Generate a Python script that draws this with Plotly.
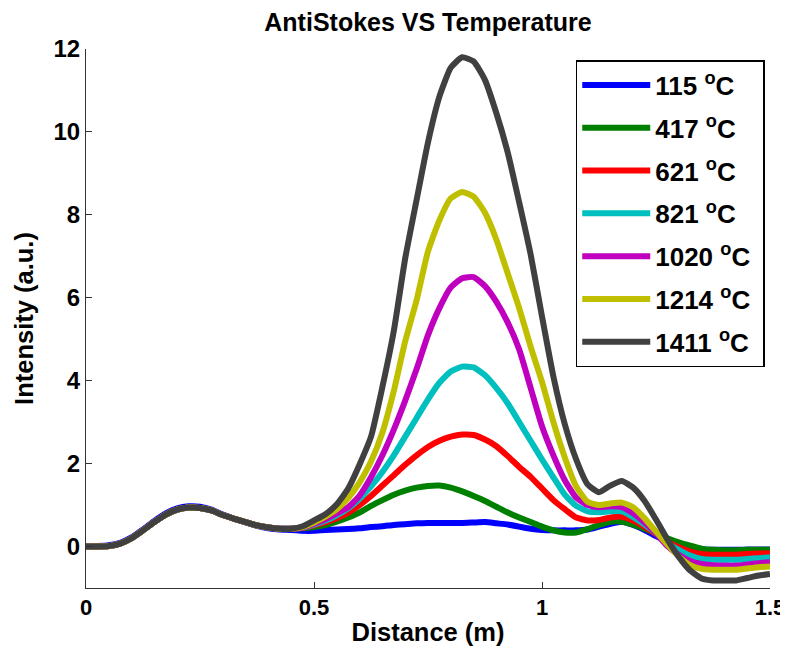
import plotly.graph_objects as go

# Distance grid (m)
distance = [round(i * 0.025, 3) for i in range(61)]

# shared baseline 0 .. 0.45 (19 points)
base = [0.00, 0.00, 0.01, 0.07, 0.20, 0.39, 0.59, 0.77, 0.89, 0.94, 0.93, 0.87, 0.76, 0.67, 0.59, 0.51, 0.46, 0.43, 0.43]
base_blue = [0.00, 0.01, 0.03, 0.09, 0.22, 0.41, 0.62, 0.80, 0.92, 0.97, 0.96, 0.89, 0.77, 0.67, 0.58, 0.50, 0.44, 0.41, 0.40]

# 0.475 .. 1.5 (42 points)
t115 = [0.38, 0.38, 0.40, 0.41, 0.42, 0.44, 0.47, 0.49, 0.52, 0.54, 0.56, 0.57, 0.57, 0.57, 0.57, 0.58,
        0.59, 0.56, 0.53, 0.48, 0.43, 0.40, 0.39, 0.39, 0.39, 0.41, 0.48, 0.55, 0.60, 0.52, 0.40, 0.25,
        0.12, 0.02, -0.04, -0.07, -0.08, -0.08, -0.08, -0.07, -0.07, -0.07]
t417 = [0.44, 0.47, 0.52, 0.60, 0.70, 0.82, 0.98, 1.12, 1.25, 1.35, 1.42, 1.46, 1.47, 1.42, 1.33, 1.22,
        1.10, 0.96, 0.82, 0.70, 0.59, 0.48, 0.39, 0.34, 0.34, 0.42, 0.52, 0.60, 0.60, 0.53, 0.43, 0.32,
        0.20, 0.10, 0.02, -0.05, -0.08, -0.09, -0.09, -0.08, -0.08, -0.08]
t621 = [0.45, 0.51, 0.58, 0.68, 0.82, 1.00, 1.22, 1.47, 1.72, 1.97, 2.20, 2.40, 2.55, 2.65, 2.70, 2.69,
        2.58, 2.42, 2.18, 1.92, 1.68, 1.40, 1.12, 0.90, 0.70, 0.63, 0.64, 0.70, 0.72, 0.63, 0.48, 0.30,
        0.12, -0.02, -0.12, -0.18, -0.20, -0.20, -0.20, -0.18, -0.17, -0.16]
t821 = [0.46, 0.53, 0.62, 0.75, 0.92, 1.15, 1.45, 1.80, 2.20, 2.65, 3.10, 3.55, 3.95, 4.22, 4.34, 4.32,
        4.13, 3.82, 3.45, 3.00, 2.55, 2.10, 1.67, 1.25, 0.98, 0.85, 0.83, 0.85, 0.85, 0.71, 0.53, 0.32,
        0.09, -0.08, -0.22, -0.30, -0.32, -0.32, -0.32, -0.30, -0.28, -0.26]
t1020 = [0.46, 0.55, 0.66, 0.80, 0.95, 1.23, 1.67, 2.20, 2.82, 3.52, 4.28, 5.10, 5.75, 6.25, 6.47, 6.50,
         6.28, 5.90, 5.40, 4.75, 3.83, 2.90, 2.20, 1.60, 1.18, 1.00, 0.95, 0.97, 0.95, 0.80, 0.58, 0.32,
         0.01, -0.20, -0.35, -0.42, -0.45, -0.46, -0.46, -0.43, -0.40, -0.38]
t1214 = [0.47, 0.58, 0.72, 0.90, 1.17, 1.55, 2.05, 2.75, 3.75, 4.95, 5.94, 7.12, 7.87, 8.40, 8.55, 8.44,
         8.05, 7.40, 6.58, 5.75, 4.82, 3.97, 3.00, 2.15, 1.45, 1.08, 1.00, 1.04, 1.06, 0.95, 0.68, 0.36,
         0.05, -0.24, -0.45, -0.54, -0.56, -0.56, -0.56, -0.53, -0.50, -0.48]
t1411 = [0.49, 0.63, 0.78, 1.02, 1.40, 1.98, 2.65, 3.85, 5.20, 6.95, 8.36, 9.75, 10.85, 11.55, 11.80, 11.70,
         11.25, 10.45, 9.50, 8.30, 7.05, 5.55, 4.10, 2.95, 2.10, 1.50, 1.31, 1.47, 1.58, 1.42, 1.10, 0.65,
         0.17, -0.25, -0.58, -0.77, -0.82, -0.82, -0.82, -0.76, -0.70, -0.66]

labels = ["115 <sup>o</sup>C", "417 <sup>o</sup>C", "621 <sup>o</sup>C", "821 <sup>o</sup>C",
          "1020 <sup>o</sup>C", "1214 <sup>o</sup>C", "1411 <sup>o</sup>C"]
series = [base_blue + t115, base + t417, base + t621, base + t821, base + t1020, base + t1214, base + t1411]
colors = ["#0000ff", "#008000", "#ff0000", "#00bfbf", "#bf00bf", "#bfbf00", "#404040"]

x_ticks = [0, 0.5, 1, 1.5]
x_ticktext = ["0", "0.5", "1", "1.5"]
y_ticks = [0, 2, 4, 6, 8, 10, 12]

FONT = "Liberation Sans, Arial, sans-serif"
W, H = 780, 638

fig = go.Figure()
for lab, ys, col in zip(labels, series, colors):
    fig.add_trace(go.Scatter(x=distance, y=ys, mode="lines", name=f"<b>{lab}</b>&nbsp;", legendgroup=lab,
                             line=dict(color=col, width=6, shape="spline", smoothing=0.5)))

# page body has an 8px margin, so the figure is offset by 8px in the screenshot
fig.update_layout(
    width=W, height=H,
    margin=dict(l=78, r=18, t=41, b=58, autoexpand=False),
    paper_bgcolor="white", plot_bgcolor="white",
    font=dict(family=FONT, color="black"),
    title=dict(text="<b>AntiStokes VS Temperature</b>", x=0.5, xref="paper", xanchor="center",
               y=1 - 14 / H, yref="container", yanchor="middle", font=dict(size=25, family=FONT)),
    xaxis=dict(range=[0, 1.5], tickvals=x_ticks, ticktext=[f"<b>{t}</b>" for t in x_ticktext],
               ticks="inside", ticklen=6, tickcolor="#333", showline=True, linecolor="#333", linewidth=1,
               showgrid=False, zeroline=False, tickfont=dict(size=22), automargin=False,
               title=dict(text="<b>Distance (m)</b>", font=dict(size=25.5), standoff=9)),
    yaxis=dict(range=[-1, 12], tickvals=y_ticks, ticktext=[f"<b>{t}</b>" for t in y_ticks],
               ticks="inside", ticklen=6, tickcolor="#333", showline=True, linecolor="#333", linewidth=1,
               showgrid=False, zeroline=False, tickfont=dict(size=24), automargin=False,
               title=dict(text="<b>Intensity (a.u.)</b>", font=dict(size=25.5), standoff=12)),
    legend=dict(x=0.716, y=0.9795, xanchor="left", yanchor="top", bgcolor="white",
                bordercolor="black", borderwidth=1.5, font=dict(size=26),
                tracegroupgap=6, itemwidth=68),
    showlegend=True,
)

fig.write_html("out.html")
